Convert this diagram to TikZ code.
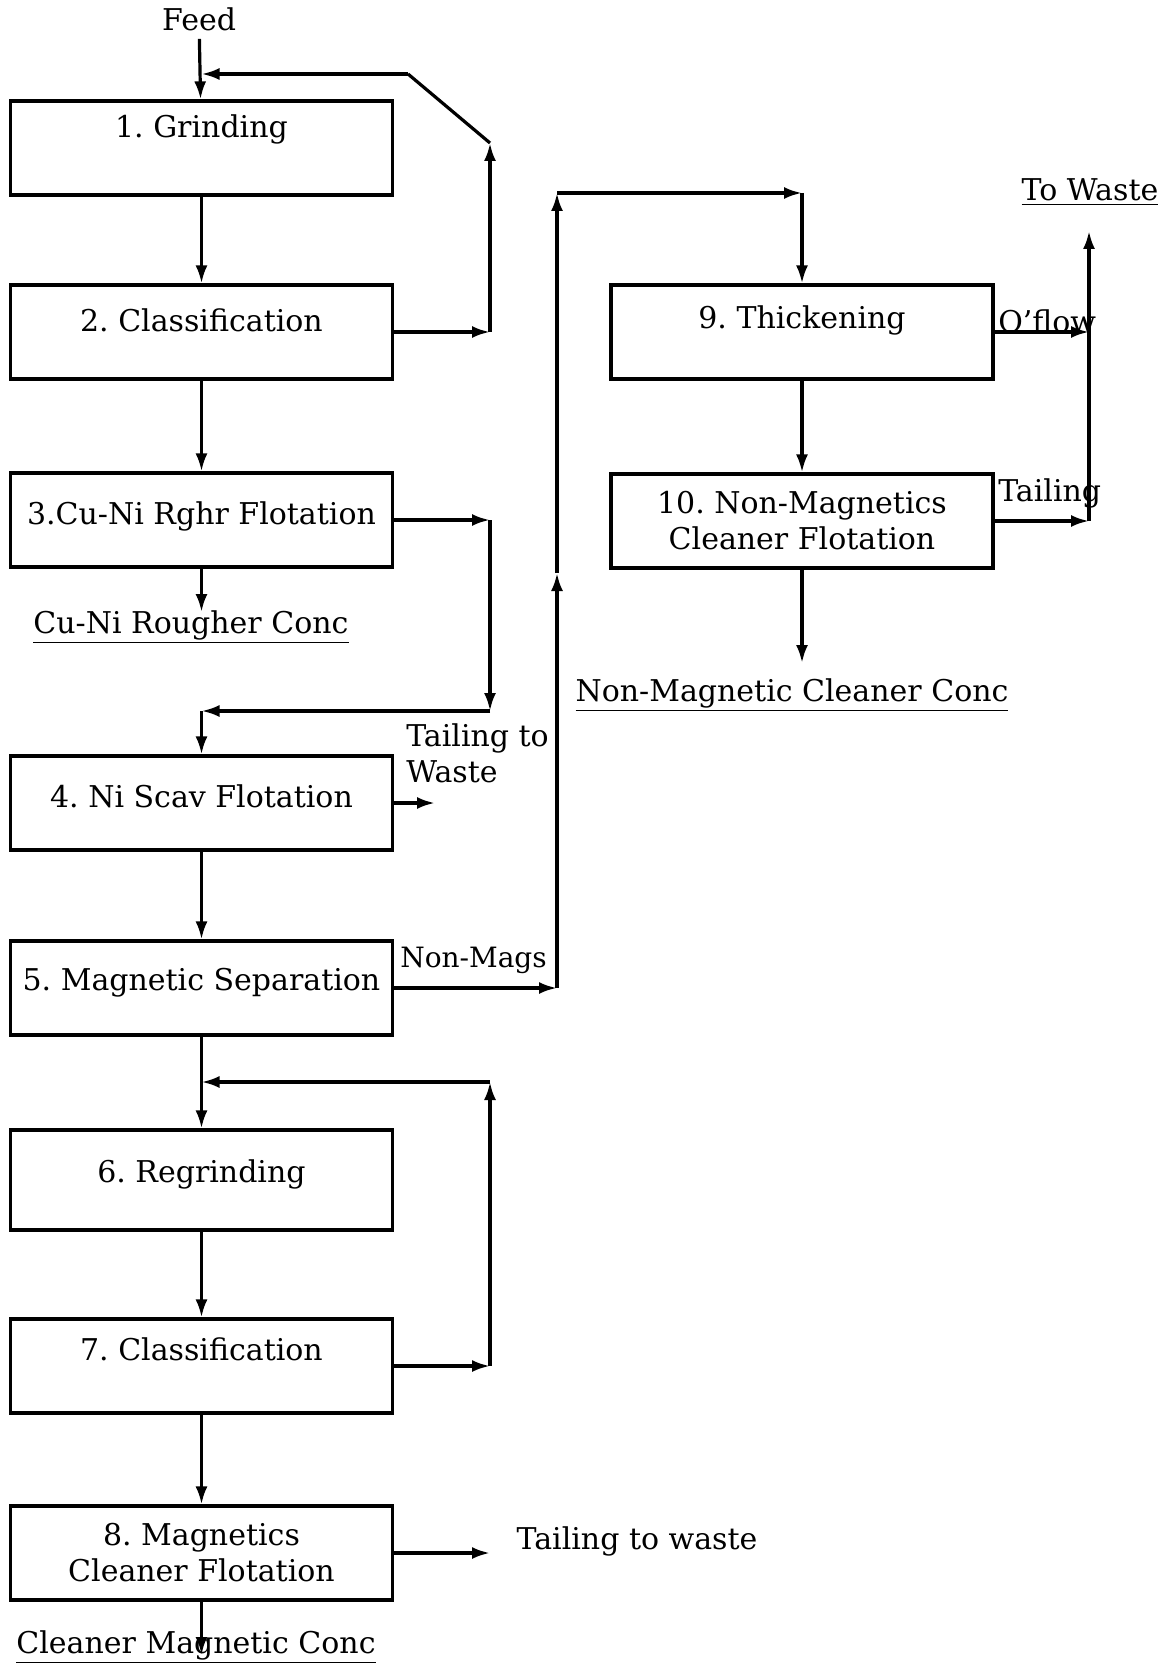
\documentclass[tikz,border=0pt]{standalone}
\usepackage{fontspec}
\setmainfont{DejaVu Serif}
\usetikzlibrary{arrows.meta}
\frenchspacing

\begin{document}
\begin{tikzpicture}[x=0.5pt,y=-0.5pt,line width=1.6pt,
    font=\fontsize{15}{18}\selectfont,
    stage/.style={draw,minimum width=191pt,minimum height=47pt,inner sep=0pt,align=center},
    lift/.style={text height=10pt,text depth=#1},
    flow/.style={-{Latex[length=9pt,width=6pt]}}]
    \useasboundingbox (0,0) rectangle (1173,1663);
    % set coordinates
    \coordinate (R1) at (490,332);
    \coordinate (R2) at (490,143);
    \coordinate (R3) at (408,74);
    \coordinate (R4) at (201.5,74);
    \coordinate (R5) at (490,520);
    \coordinate (R6) at (490,711);
    \coordinate (R7) at (201.5,711);
    \coordinate (R8) at (490,1366);
    \coordinate (R9) at (490,1082);
    \coordinate (R10) at (201.5,1082);
    \coordinate (T4) at (435,803);
    \coordinate (T8) at (490,1553);
    \coordinate (N1) at (557,988);
    \coordinate (N2) at (557,573);
    \coordinate (N3) at (557,193);
    \coordinate (N4) at (802,193);
    \coordinate (W1) at (1089,332);
    \coordinate (W2) at (1089,521);
    \coordinate (W3) at (1089,231);
    \coordinate (E3) at (201.5,612);
    \coordinate (E8) at (201.5,1655);
    \coordinate (E10) at (802,663);
    % place stages
    \node [stage,lift=20pt] (S1) at (201.5,148) {1. Grinding};
    \node [stage,lift=10.6pt] (S2) at (201.5,332) {2. Classification};
    \node [stage,lift=6pt] (S3) at (201.5,520) {3.Cu-Ni Rghr Flotation};
    \node [stage,lift=5.4pt] (S4) at (201.5,803) {4. Ni Scav Flotation};
    \node [stage,lift=7.5pt] (S5) at (201.5,988) {5. Magnetic Separation};
    \node [stage,lift=8pt,minimum height=50pt] (S6) at (201.5,1180) {6. Regrinding};
    \node [stage,lift=15.6pt] (S7) at (201.5,1366) {7. Classification};
    \node [stage] (S8) at (201.5,1553) {8. Magnetics\\Cleaner Flotation};
    \node [stage,lift=13pt] (S9) at (802,332) {9. Thickening};
    \node [stage] (S10) at (802,521) {10. Non-Magnetics\\Cleaner Flotation};
    \node (feed) at (199,19) {Feed};
    % draw flows
    \draw [flow] (feed) -- (S1);
    \draw [flow] (S1) -- (S2);
    \draw [flow] (S2.east) -- (R1);
    \draw [flow] (R1) -- (R2);
    \draw (R2) -- (R3);
    \draw [flow] (R3) -- (R4);
    \draw [flow] (S2) -- (S3);
    \draw [flow] (S3) -- (E3);
    \draw [flow] (S3.east) -- (R5);
    \draw [flow] (R5) -- (R6);
    \draw [flow] (R6) -- (R7);
    \draw [flow] (R7) -- (S4);
    \draw [flow] (S4.east) -- (T4);
    \draw [flow] (S4) -- (S5);
    \draw [flow] (S5.east) -- (N1);
    \draw [flow] (N1) -- (N2);
    \draw [flow] (N2) -- (N3);
    \draw [flow] (N3) -- (N4);
    \draw [flow] (N4) -- (S9);
    \draw [flow] (S9) -- (S10);
    \draw [flow] (S9.east) -- (W1);
    \draw [flow] (S10.east) -- (W2);
    \draw [flow] (W2) -- (W3);
    \draw [flow] (S10) -- (E10);
    \draw [flow] (S5) -- (S6);
    \draw [flow] (S6) -- (S7);
    \draw [flow] (S7.east) -- (R8);
    \draw [flow] (R8) -- (R9);
    \draw [flow] (R9) -- (R10);
    \draw [flow] (S7) -- (S8);
    \draw [flow] (S8.east) -- (T8);
    \draw [flow] (S8) -- (E8);
    % add labels
    \node (cuni) at (191,627) {\underline{Cu-Ni Rougher Conc}};
    \node [anchor=west,align=left] (tail4) at (398,753) {Tailing to\\Waste};
    \node [anchor=west,font=\fontsize{14}{17}\selectfont] (nonmag) at (392,960) {Non-Mags};
    \node [anchor=west] (oflow) at (990,321) {O'flow};
    \node [anchor=west] (tail10) at (990,493) {Tailing};
    \node (waste) at (1090,192) {\underline{To Waste}};
    \node (nmconc) at (792,695) {\underline{Non-Magnetic Cleaner Conc}};
    \node (tail8) at (637,1541) {Tailing to waste};
    \node (cmconc) at (196,1647) {\underline{Cleaner Magnetic Conc}};
\end{tikzpicture}
\end{document}
